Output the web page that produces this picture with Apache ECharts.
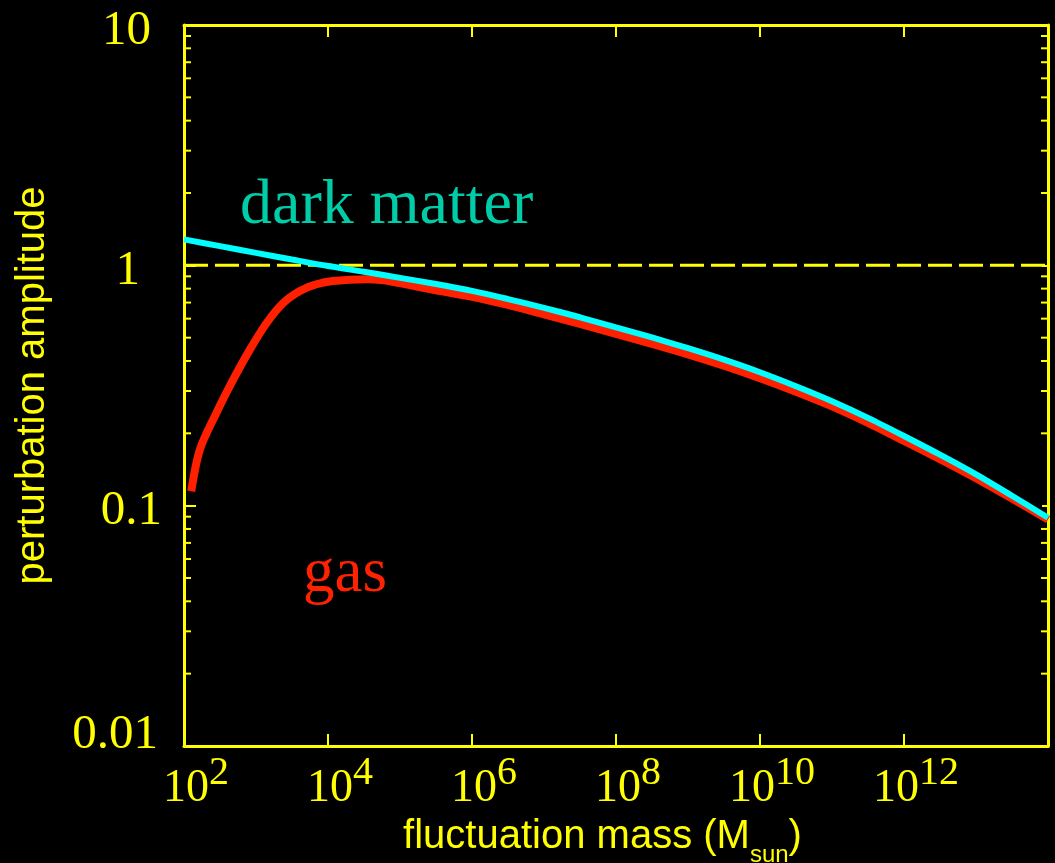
<!DOCTYPE html>
<html><head><meta charset="utf-8">
<script src="https://cdn.jsdelivr.net/npm/echarts@6/dist/echarts.min.js"></script>
<style>html,body{margin:0;padding:0;background:#000;}#c{width:1055px;height:863px;}</style>
</head><body><div id="c"></div>
<script>
// log10 of fluctuation mass (M_sun)
const darkMassExp = [2, 2.5, 3, 3.5, 4, 4.5, 5, 5.5, 6, 6.5, 7, 7.5, 8, 8.5, 9, 9.5, 10, 10.5, 11, 11.5, 12, 12.5, 13, 13.5, 14];
// perturbation amplitude, dark matter
const darkAmp = [1.282, 1.202, 1.127, 1.057, 0.993, 0.940, 0.887, 0.836, 0.783, 0.724, 0.665, 0.608, 0.552, 0.501, 0.452, 0.405, 0.359, 0.314, 0.272, 0.232, 0.195, 0.163, 0.135, 0.110, 0.0891];
const gasMassExp = [2.1, 2.22, 2.45, 2.685, 2.917, 3.15, 3.38, 3.61, 3.84, 4.07, 4.54, 4.77, 5, 5.5, 6, 6.5, 7, 7.5, 8, 8.5, 9, 9.5, 10, 10.5, 11, 11.5, 12, 12.5, 13, 13.5, 14];
// perturbation amplitude, gas
const gasAmp = [0.1148, 0.171, 0.243, 0.335, 0.447, 0.577, 0.698, 0.782, 0.834, 0.861, 0.875, 0.866, 0.843, 0.787, 0.740, 0.684, 0.625, 0.570, 0.518, 0.471, 0.426, 0.382, 0.339, 0.298, 0.259, 0.221, 0.186, 0.156, 0.130, 0.107, 0.0875];
const xTickExponents = [2, 4, 6, 8, 10, 12];
const yTickLabels = ['10', '1', '0.1', '0.01'];
const yMinorTicks = [0.02,0.03,0.04,0.05,0.06,0.07,0.08,0.09,0.2,0.3,0.4,0.5,0.6,0.7,0.8,0.9,2,3,4,5,6,7,8,9];
const referenceLevel = 1;
const xMin = 1e2, xMax = 1e14, yMin = 0.01, yMax = 10;

const YEL = '#ffff00';
const serif = '"Liberation Serif", "Times New Roman", serif';
const sans = '"Liberation Sans", Arial, sans-serif';

const darkData = darkMassExp.map((e, i) => [Math.pow(10, e), darkAmp[i]]);
const gasData = gasMassExp.map((e, i) => [Math.pow(10, e), gasAmp[i]]);

function xLabel(v) {
  const e = Math.round(Math.log10(v));
  if (xTickExponents.indexOf(e) < 0) return '';
  return '{b|10}{s|' + e + '}';
}
function yLabel(v) {
  const s = String(Number(v.toPrecision(6)));
  if (yTickLabels.indexOf(s) < 0) return '';
  const key = {'10': 't10', '1': 't1', '0.1': 't01', '0.01': 't001'}[s];
  return '{' + key + '|' + s + '}';
}
const yl = {fontFamily: serif, fontSize: 49, color: YEL};
const chart = echarts.init(document.getElementById('c'), null, {renderer: 'canvas'});
chart.setOption({
  backgroundColor: '#000',
  animation: false,
  grid: {left: 184, top: 25, right: 7, bottom: 117, containLabel: false, outerBoundsMode: 'none'},
  xAxis: [{
    type: 'log', logBase: 100, min: xMin, max: xMax, splitNumber: 6, position: 'bottom',
    axisLine: {show: true, lineStyle: {color: YEL, width: 3}},
    axisTick: {show: true, inside: true, length: 12, lineStyle: {color: YEL, width: 2}},
    splitLine: {show: false}, minorTick: {show: false},
    axisLabel: {
      show: true, margin: 20, formatter: xLabel,
      rich: {
        b: {fontFamily: serif, fontSize: 46, lineHeight: 46, color: YEL, verticalAlign: 'bottom', padding: [0, 0, 0, 24]},
        s: {fontFamily: serif, fontSize: 40, lineHeight: 40, color: YEL, verticalAlign: 'bottom', padding: [0, 0, 19, 0]}
      }
    },
    name: '{m|fluctuation mass (M}{sub|sun}{m2|)}',
    nameLocation: 'middle', nameGap: 79,
    nameTextStyle: {
      rich: {
        m: {fontFamily: sans, fontSize: 40, lineHeight: 40, color: YEL, verticalAlign: 'bottom', padding: [0, 0, 10, 0]},
        m2: {fontFamily: sans, fontSize: 40, lineHeight: 40, color: YEL, verticalAlign: 'bottom', padding: [0, 27, 10, 0]},
        sub: {fontFamily: sans, fontSize: 24, lineHeight: 24, color: YEL, verticalAlign: 'bottom'}
      }
    }
  }, {
    type: 'log', logBase: 100, min: xMin, max: xMax, splitNumber: 6, position: 'top',
    axisLine: {show: true, lineStyle: {color: YEL, width: 3}},
    axisTick: {show: true, inside: true, length: 12, lineStyle: {color: YEL, width: 2}},
    splitLine: {show: false}, axisLabel: {show: false}
  }],
  yAxis: [{
    type: 'log', logBase: 10, min: yMin, max: yMax, position: 'left',
    axisLine: {show: true, lineStyle: {color: YEL, width: 3}},
    axisTick: {show: true, inside: true, length: 12, lineStyle: {color: YEL, width: 2}},
    splitLine: {show: false},
    axisLabel: {
      show: true, margin: 22, formatter: yLabel,
      rich: {
        t10: Object.assign({}, yl, {padding: [12, 11, 0, 0]}),
        t1: Object.assign({}, yl, {padding: [12, 22, 0, 0]}),
        t01: Object.assign({}, yl, {padding: [10, 0, 0, 0]}),
        t001: Object.assign({}, yl, {padding: [0, 4, 22, 0]})
      }
    },
    name: 'perturbation amplitude', nameLocation: 'middle', nameGap: 131,
    nameTextStyle: {fontFamily: sans, fontSize: 40, color: YEL}
  }, {
    type: 'log', logBase: 10, min: yMin, max: yMax, position: 'right',
    axisLine: {show: true, lineStyle: {color: YEL, width: 3}},
    axisTick: {show: true, inside: true, length: 6, lineStyle: {color: YEL, width: 2}},
    splitLine: {show: false}, axisLabel: {show: false}
  }],
  graphic: [
    {type: 'text', x: 240, y: 206, silent: true,
     style: {text: 'dark matter', font: '64px ' + serif, fill: '#00cca8', align: 'left', verticalAlign: 'middle'}},
    {type: 'text', x: 303, y: 574, silent: true,
     style: {text: 'gas', font: '63px ' + serif, fill: '#ff2200', align: 'left', verticalAlign: 'middle'}}
  ],
  series: [
    {
      type: 'custom', xAxisIndex: 0, yAxisIndex: 0, silent: true, z: 1,
      data: yMinorTicks.map(v => [xMin, v]),
      renderItem: function (params, api) {
        const p = api.coord([api.value(0), api.value(1)]);
        const cs = params.coordSys;
        const st = {stroke: YEL, lineWidth: 2};
        return {type: 'group', children: [
          {type: 'line', shape: {x1: cs.x, y1: p[1], x2: cs.x + 7, y2: p[1]}, style: st},
          {type: 'line', shape: {x1: cs.x + cs.width, y1: p[1], x2: cs.x + cs.width - 7, y2: p[1]}, style: st}
        ]};
      }
    },
    {
      type: 'line', xAxisIndex: 0, yAxisIndex: 0, silent: true, z: 1,
      data: [[xMin, referenceLevel], [xMax, referenceLevel]],
      showSymbol: false, symbol: 'none',
      lineStyle: {color: YEL, width: 3, type: [24, 7]}
    },
    {
      name: 'gas', type: 'line', xAxisIndex: 0, yAxisIndex: 0, data: gasData, smooth: 0.3,
      showSymbol: false, symbol: 'none', z: 3, clip: false,
      lineStyle: {color: '#ff2000', width: 8, cap: 'butt'}
    },
    {
      name: 'dark matter', type: 'line', xAxisIndex: 0, yAxisIndex: 0, data: darkData, smooth: 0.3,
      showSymbol: false, symbol: 'none', z: 4, clip: false,
      lineStyle: {color: '#00ffff', width: 6, cap: 'butt'}
    }
  ]
});
</script></body></html>
